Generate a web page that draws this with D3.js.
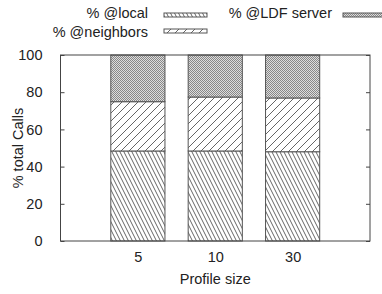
<!DOCTYPE html>
<html>
<head>
<meta charset="utf-8">
<script src="https://cdn.jsdelivr.net/npm/d3@7"></script>
<style>
  body { margin: 0; background: #fff; }
  text { font-family: "Liberation Sans", Arial, sans-serif; font-size: 14.5px; fill: #222; }
</style>
</head>
<body>
<div id="chart"></div>
<script>
(function () {
    let w = 382
    let h = 294
    let fontSize = "14.5px"
    let margin = {top: 55, right: 12, bottom: 53, left: 60.5}

    // data
    let profileSizes = ["5", "10", "30"]
    let seriesNames = ["% @local", "% @neighbors", "% @LDF server"]
    let local = [48.4, 48.4, 48.0]
    let neighbors = [26.5, 29.0, 28.9]
    let ldfServer = [25.1, 22.6, 23.1]
    let yTicks = [0, 20, 40, 60, 80, 100]

    let svg = d3.select("#chart")
        .append("svg")
        .attr("width", w)
        .attr("height", h)

    let defs = svg.append("defs")

    // dense backslash hatch
    let p1 = defs.append("pattern")
        .attr("id", "pLocal")
        .attr("patternUnits", "userSpaceOnUse")
        .attr("width", 4).attr("height", 8)
    p1.append("rect").attr("width", 4).attr("height", 8).attr("fill", "#fff")
    p1.append("path")
        .attr("d", "M-4,-8 L8,16 M0,-8 L12,16 M-8,-8 L4,16")
        .attr("stroke", "#666").attr("stroke-width", 1)

    // slash hatch
    let p2 = defs.append("pattern")
        .attr("id", "pNeigh")
        .attr("patternUnits", "userSpaceOnUse")
        .attr("width", 8).attr("height", 8)
    p2.append("rect").attr("width", 8).attr("height", 8).attr("fill", "#fff")
    p2.append("path")
        .attr("d", "M-2,2 L2,-2 M0,8 L8,0 M6,10 L10,6")
        .attr("stroke", "#666").attr("stroke-width", 1)

    // fine checker
    let p3 = defs.append("pattern")
        .attr("id", "pLdf")
        .attr("patternUnits", "userSpaceOnUse")
        .attr("width", 2).attr("height", 2)
    p3.append("rect").attr("width", 2).attr("height", 2).attr("fill", "#ddd")
    p3.append("rect").attr("width", 1).attr("height", 1).attr("fill", "#888")
    p3.append("rect").attr("x", 1).attr("y", 1).attr("width", 1).attr("height", 1).attr("fill", "#888")

    let fills = ["url(#pLocal)", "url(#pNeigh)", "url(#pLdf)"]

    let x = d3.scaleLinear()
        .domain([-1, 3])
        .range([margin.left, w - margin.right])

    let y = d3.scaleLinear()
        .domain([0, 100])
        .range([h - margin.bottom, margin.top])

    let barW = x(0.7) - x(0)

    let rows = profileSizes.map((p, i) => ({size: p, local: local[i], neighbors: neighbors[i], ldf: ldfServer[i]}))
    let stack = d3.stack().keys(["local", "neighbors", "ldf"])(rows)

    // bars
    stack.forEach((layer, k) => {
        svg.append("g")
            .selectAll("rect")
            .data(layer)
            .enter()
            .append("rect")
            .attr("x", (d, i) => x(i) - barW / 2)
            .attr("y", d => y(d[1]))
            .attr("width", barW)
            .attr("height", d => y(d[0]) - y(d[1]))
            .attr("fill", fills[k])
            .attr("stroke", "#555")
            .attr("stroke-width", 1)
    })

    // y axis, ticks pointing inward, mirrored
    let yAxis = d3.axisLeft(y).tickValues(yTicks).tickSize(-4).tickPadding(18)
    let gy = svg.append("g")
        .attr("transform", "translate(" + margin.left + ",0)")
        .call(yAxis)
    gy.select(".domain").remove()
    gy.selectAll("line").attr("stroke", "#444")
    gy.selectAll("text").style("font-size", fontSize).attr("fill", "#222")

    let gy2 = svg.append("g")
        .attr("transform", "translate(" + (w - margin.right) + ",0)")
        .call(d3.axisRight(y).tickValues(yTicks).tickSize(-4).tickFormat(""))
    gy2.select(".domain").remove()
    gy2.selectAll("line").attr("stroke", "#444")

    // x axis labels
    let gx = svg.append("g")
        .attr("transform", "translate(0," + (h - margin.bottom) + ")")
        .call(d3.axisBottom(x).tickValues([0, 1, 2]).tickSize(0).tickPadding(11)
            .tickFormat(i => profileSizes[i]))
    gx.select(".domain").remove()
    gx.selectAll("text").style("font-size", fontSize).attr("fill", "#222")

    // frame
    svg.append("rect")
        .attr("x", margin.left)
        .attr("y", margin.top)
        .attr("width", w - margin.left - margin.right)
        .attr("height", h - margin.top - margin.bottom)
        .attr("fill", "none")
        .attr("stroke", "#444")
        .attr("stroke-width", 1)

    // axis titles
    svg.append("text")
        .attr("transform", "rotate(-90)")
        .attr("x", -(margin.top + (h - margin.bottom)) / 2)
        .attr("y", 23)
        .style("text-anchor", "middle")
        .text("% total Calls")

    svg.append("text")
        .attr("x", (margin.left + w - margin.right) / 2)
        .attr("y", 284)
        .style("text-anchor", "middle")
        .text("Profile size")

    // legend
    let legendPos = [
        {tx: 148, ty: 18, bx: 164, by: 13},
        {tx: 148, ty: 37, bx: 164, by: 29},
        {tx: 332, ty: 18, bx: 343, by: 13}
    ]
    seriesNames.forEach((name, k) => {
        let p = legendPos[k]
        svg.append("text")
            .attr("x", p.tx)
            .attr("y", p.ty)
            .style("text-anchor", "end")
            .text(name)
        svg.append("rect")
            .attr("x", p.bx)
            .attr("y", p.by)
            .attr("width", 43)
            .attr("height", 4)
            .attr("fill", fills[k])
            .attr("stroke", "#555")
            .attr("stroke-width", 1)
    })
})()
</script>
</body>
</html>
